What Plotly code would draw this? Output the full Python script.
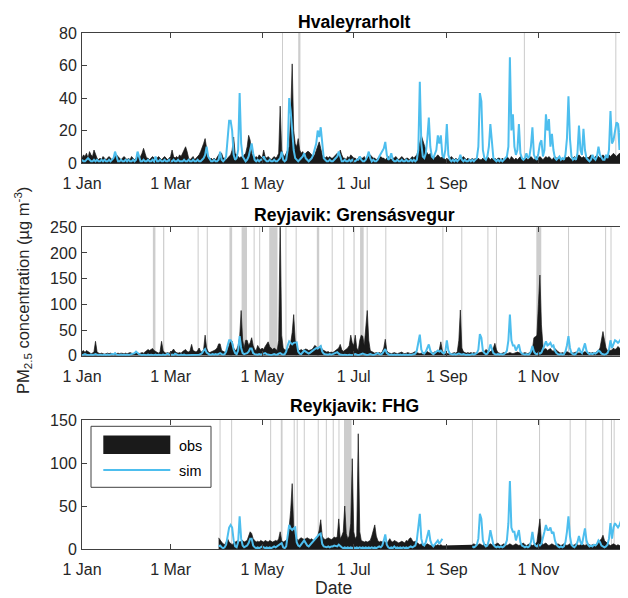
import plotly.graph_objects as go
import pandas as pd

# ---------------- data (daily values, day 0 = 1 Jan) ----------------
year_start = "2017-01-01"
tick_dates = ["2017-01-01", "2017-03-01", "2017-05-01", "2017-07-01", "2017-09-01", "2017-11-01"]
tick_labels = ["1 Jan", "1 Mar", "1 May", "1 Jul", "1 Sep", "1 Nov"]
titles = ["Hvaleyrarholt", "Reyjavik: Grensásvegur", "Reykjavik: FHG"]
y_max = [80, 250, 150]
y_ticks = [[0, 20, 40, 60, 80], [0, 50, 100, 150, 200, 250], [0, 50, 100, 150]]

hv_obs = [3,5,4,6,3,7,5,4,8,5,3,2,3,2,4,3,2,3,4,3,
          2,3,4,5,4,3,2,3,4,3,2,3,2,4,3,2,3,4,3,4,
          6,9,6,3,3,2,3,4,3,2,3,4,3,2,3,4,3,2,3,4,
          8,4,3,4,3,5,4,6,8,10,7,3,2,3,4,2,3,4,5,7,
          9,12,15,8,3,2,3,2,3,2,4,5,6,6,3,3,2,3,4,5,
          8,16,6,5,4,3,4,3,5,6,10,17,14,6,4,3,4,3,5,4,
          3,8,4,3,4,3,2,3,4,3,4,6,35,8,5,4,6,8,10,30,
          61,20,12,10,15,8,6,7,5,6,7,7,6,5,4,5,8,10,13,9,
          5,4,3,4,3,4,3,3,4,5,6,4,8,5,3,3,2,4,3,5,
          4,3,3,2,3,4,3,3,4,2,3,4,5,4,3,3,2,3,3,4,
          3,3,2,3,4,3,2,3,3,4,3,2,3,4,3,2,3,3,2,3,
          4,3,4,5,8,12,17,14,10,8,6,5,6,4,4,3,4,5,4,3,
          4,3,2,3,2,3,4,3,2,3,2,3,2,3,4,3,2,3,2,2,
          3,2,3,2,3,2,2,3,2,3,4,3,2,3,2,3,2,3,3,2,
          3,2,3,4,3,2,4,3,2,3,2,3,4,3,2,3,3,2,3,4,
          3,2,3,4,3,4,3,2,3,4,3,4,3,2,3,4,3,3,4,3,
          2,3,4,3,4,3,2,3,4,3,4,5,4,3,4,3,4,3,4,5,
          4,3,4,5,4,3,4,5,4,3,4,5,4,5,6,5,4,5,6,5,
          4,5,4,3,4]

hv_sim = [2,1,1,2,3,2,1,1,2,1,2,1,1,2,1,2,1,1,2,1,
          2,3,7,3,1,1,2,1,1,2,1,2,1,1,2,1,2,7,3,1,
          1,2,1,1,2,1,1,2,1,4,1,1,2,1,1,2,1,1,2,1,
          1,2,1,1,2,1,1,1,2,1,1,2,1,1,2,1,1,2,1,1,
          2,3,5,10,4,2,1,1,2,1,1,2,7,2,1,2,4,15,26,26,
          20,5,2,3,8,43,12,4,2,1,2,4,8,12,6,2,1,2,1,2,
          2,4,2,1,1,2,1,1,2,1,1,2,3,7,2,1,2,8,40,32,
          20,8,3,2,1,2,3,4,6,3,2,1,2,3,5,8,12,20,16,22,
          10,3,2,1,1,2,1,1,2,3,4,7,3,1,1,2,1,1,2,1,
          2,1,1,2,2,4,2,1,1,2,4,7,3,1,2,1,1,2,4,6,
          8,9,13,5,2,3,6,2,1,1,2,1,1,2,1,1,2,1,1,2,
          1,2,1,2,8,50,12,4,3,6,15,28,10,4,3,5,8,17,12,17,
          5,3,8,24,5,2,1,2,1,2,1,2,5,2,1,2,1,1,2,1,
          2,1,2,3,10,43,38,8,3,2,4,10,24,12,3,2,1,2,1,2,
          1,2,3,4,10,65,20,30,10,5,8,24,6,3,2,3,6,3,4,10,
          22,5,3,2,6,12,14,4,8,30,20,27,10,18,8,3,2,3,4,2,
          3,2,5,15,41,15,4,2,3,2,6,23,8,5,21,8,3,2,1,2,
          5,3,2,4,10,5,3,2,2,5,3,8,32,12,14,20,25,24,8,25,
          13,11,6,8,12]

gr_obs = [8,10,6,10,8,5,4,5,8,28,8,5,4,5,4,3,4,5,4,5,
          4,3,5,4,5,4,5,4,4,5,4,5,6,5,4,5,8,5,4,5,
          6,5,8,10,12,10,12,14,10,8,6,5,8,28,10,6,5,6,5,7,
          9,13,8,6,5,6,5,8,10,12,8,7,10,22,10,8,7,10,15,8,
          7,12,40,15,8,6,7,8,10,12,15,23,23,10,8,7,8,12,20,30,
          28,15,10,12,20,35,88,30,15,30,30,20,25,35,20,12,10,20,15,12,
          15,12,18,22,27,18,15,12,15,12,10,30,262,40,15,12,10,12,15,25,
          45,80,30,20,12,10,12,10,11,13,12,10,11,12,15,20,18,12,15,20,
          12,10,8,7,8,6,7,6,8,10,12,15,22,12,8,10,12,15,20,40,
          25,20,40,15,10,30,40,38,20,50,88,30,10,8,6,5,6,5,6,5,
          8,15,32,10,6,5,4,5,6,5,4,5,6,7,5,4,5,6,5,4,
          5,6,8,6,5,4,5,6,5,7,8,6,5,6,5,8,6,8,12,27,
          10,5,4,5,4,5,4,5,6,5,8,30,89,15,8,6,5,6,5,6,
          5,6,5,6,5,6,7,6,8,12,10,6,8,10,15,24,12,6,5,4,
          5,6,5,4,5,6,5,4,5,6,7,6,5,4,5,6,5,4,6,8,
          12,35,37,40,100,157,60,20,12,14,10,12,14,10,8,14,10,8,6,5,
          6,5,6,8,6,5,6,5,6,7,6,5,6,5,6,8,6,5,6,5,
          6,5,6,8,10,15,30,47,30,15,10,12,10,11,15,12,14,18,15,12,
          20,12,10,12,10]

gr_sim = [1,2,3,2,1,1,2,1,2,3,2,1,2,1,1,2,1,2,1,2,
          3,2,5,2,1,1,2,1,2,1,2,1,2,3,4,5,8,5,3,2,
          1,2,1,1,2,1,2,1,1,2,1,2,1,1,2,1,2,4,2,1,
          2,1,4,2,1,1,2,1,2,1,1,2,1,2,1,1,2,1,2,3,
          5,10,13,6,3,2,2,3,2,3,2,4,5,3,2,3,8,20,30,30,
          25,12,5,3,10,38,15,5,3,4,5,8,14,14,5,3,2,2,3,2,
          3,4,5,3,2,2,1,2,3,2,2,4,5,3,2,3,8,20,28,25,
          22,25,26,26,8,4,3,6,10,8,5,4,6,8,10,12,15,14,16,19,
          8,4,3,2,2,3,2,3,4,5,7,4,2,2,1,2,1,1,2,1,
          1,2,3,2,1,2,3,4,3,2,1,2,3,2,1,2,3,5,3,2,
          4,8,13,5,2,1,2,1,2,1,2,1,2,1,2,1,2,1,2,1,
          2,3,4,10,30,41,12,5,4,8,15,22,10,5,3,5,8,10,8,10,
          6,4,8,30,10,4,3,2,3,2,3,4,3,2,3,2,1,2,1,2,
          3,2,3,5,12,42,35,10,5,3,4,10,22,15,5,3,2,3,2,3,
          2,3,5,10,30,80,30,20,20,10,15,22,8,4,3,2,3,2,3,8,
          19,8,4,3,5,4,6,12,20,28,20,22,25,18,20,10,5,3,2,3,
          2,3,8,20,38,15,5,3,2,4,8,15,8,5,15,24,10,5,3,4,
          3,5,4,6,10,8,4,3,2,3,5,12,30,15,25,30,28,25,28,33,
          15,8,10,20,15]

fhg_obs = ([None] * 91 +
           [13,10,8,6,5,8,12,8,6,5,7,8,9,10,8,9,10,8,9,10,
            15,20,18,12,10,8,9,8,10,9,8,10,9,8,10,9,8,9,10,9,
            12,20,10,8,9,10,12,25,45,76,25,15,12,10,12,13,12,11,12,13,
            12,11,12,10,11,12,15,22,34,15,12,11,12,13,12,11,12,14,13,14,35,
            12,15,20,50,18,12,15,30,105,20,12,15,134,20,10,9,8,9,8,9,
            10,15,22,28,15,10,8,9,8,9,8,7,9,12,9,8,10,9,8,7,
            8,9,8,7,10,9,12,13,10,8,9,8,6,5,6,5,6,5,6,5,
            4,5,4,5,4,5,4,5,4] +
           [None] * 19 +
           [5,6,5,4,5,6,5,4,6,5,4,5,6,5,4,5,6,7,5,4,
            5,6,5,4,5,6,5,4,5,6,5,4,5,6,7,5,4,5,6,5,
            4,5,6,8,20,35,8,5,6,7,5,4,5,6,5,4,5,6,5,4,
            5,6,5,4,5,6,5,4,5,6,5,4,5,6,5,4,5,6,5,4,
            5,4,5,6,7,10,12,16,10,8,6,5,4,5,6,5,4,5,4,5,
            6,5,4,5,4])

fhg_sim = ([None] * 91 +
           [3,4,2,1,2,5,15,25,28,25,10,3,2,8,38,12,4,2,3,4,
            7,12,12,4,2,1,2,1,2,3,2,1,2,1,2,1,2,3,2,3,
            4,6,7,2,1,3,15,28,24,22,24,25,8,4,3,5,8,10,7,4,
            3,5,8,10,12,14,15,17,18,6,3,2,2,3,2,3,3,4,3,3,5,
            3,2,1,2,1,2,1,2,1,2,1,2,1,2,1,2,1,2,1,2,
            1,2,1,2,1,2,3,2,4,10,17,5,2,1,2,1,3,1,2,1,
            2,1,2,1,2,1,2,3,2,3,4,10,
            30,41,12,5,4,8,15,22,10,5,3,5,8,10,6,10,12] +
           [None] * 19 +
           [3,2,3,5,12,41,35,10,5,3,4,10,22,15,5,3,2,3,2,3,
            2,3,5,10,30,79,25,20,20,10,15,22,8,4,3,2,3,2,3,8,
            20,8,4,3,5,4,6,12,20,28,22,22,25,18,20,10,5,3,2,3,
            2,3,8,20,38,15,5,3,2,4,8,15,8,5,15,24,10,5,3,4,
            3,5,4,6,10,8,4,3,2,3,5,12,30,12,25,30,28,25,28,33,
            15,8,10,20,8])

# grey bands (start day, end day)
hv_gaps = [(133.2, 133.9), (144.0, 145.5), (294.3, 295.0), (355.2, 355.9)]
gr_gaps = [(47.2, 48.9), (54.0, 54.8), (77.0, 77.7), (83.1, 83.8), (98.2, 100.0),
           (106.3, 109.9), (114.3, 115.0), (118.0, 118.7), (124.7, 130.2), (135.5, 136.2),
           (142.3, 143.0), (156.4, 158.0), (166.3, 167.0), (174.0, 174.7), (180.8, 181.6),
           (185.2, 187.6), (189.6, 190.3), (202.0, 202.7), (240.0, 240.7), (252.6, 253.3),
           (270.0, 270.7), (275.7, 276.4), (302.6, 305.9), (323.7, 324.4), (348.4, 349.1),
           (352.0, 352.7), (358.8, 360.3)]
fhg_gaps = [(91.6, 92.3), (99.3, 100.0), (125.3, 126.0), (132.4, 133.6), (141.0, 141.7),
            (143.0, 143.7), (147.7, 148.4), (157.0, 157.7), (162.4, 163.1), (167.0, 167.7),
            (170.8, 171.5), (174.5, 179.5), (259.7, 260.4), (275.8, 276.5), (304.4, 305.1),
            (324.8, 325.5), (335.2, 335.9), (346.5, 347.2), (352.3, 353.0), (354.1, 354.8)]

# ---------------- figure ----------------
PAGE_OFF = 8                 # default body margin of the html page
W, H = 628 - PAGE_OFF, 598 - PAGE_OFF
start = pd.Timestamp(year_start)
N = 365
dates = pd.date_range(start, periods=N, freq="D")


def fit(a):
    a = list(a)[:N]
    return a + [None] * (N - len(a))


def d2t(d):
    return (start + pd.Timedelta(days=d)).strftime("%Y-%m-%d %H:%M:%S")


def px(x):
    return (x - PAGE_OFF) / W


def py(y):
    return 1 - (y - PAGE_OFF) / H


FONT = "Liberation Sans, Arial, Helvetica, sans-serif"
AX = "#404040"
TXT = "#262626"
OBS = "#1a1a1a"
SIM = "#4DBEEE"
GAP = "#cdcdcd"

plot_left, plot_right = 82, 627
panel_px = [(33, 163), (227.3, 355.7), (420, 549)]
title_y = [22, 215, 406]

series = [(hv_obs, hv_sim, hv_gaps), (gr_obs, gr_sim, gr_gaps), (fhg_obs, fhg_sim, fhg_gaps)]

fig = go.Figure()
shapes = []
annotations = []
layout = {}

for i, (obs, sim, gaps) in enumerate(series):
    xa = "x" if i == 0 else f"x{i+1}"
    ya = "y" if i == 0 else f"y{i+1}"
    fig.add_trace(go.Scatter(x=dates, y=fit(obs), mode="lines", fill="tozeroy",
                             line=dict(color=OBS, width=0.7), fillcolor=OBS,
                             connectgaps=False, showlegend=False, hoverinfo="skip",
                             xaxis=xa, yaxis=ya))
    fig.add_trace(go.Scatter(x=dates, y=fit(sim), mode="lines",
                             line=dict(color=SIM, width=2), connectgaps=False,
                             showlegend=False, hoverinfo="skip", xaxis=xa, yaxis=ya))
    for a, b in gaps:
        shapes.append(dict(type="rect", xref=xa, yref=f"{ya} domain", x0=d2t(a), x1=d2t(b),
                           y0=0, y1=1, fillcolor=GAP, line=dict(width=0), layer="below"))
    top, bot = panel_px[i]
    kx = "xaxis" if i == 0 else f"xaxis{i+1}"
    ky = "yaxis" if i == 0 else f"yaxis{i+1}"
    layout[kx] = dict(domain=[px(plot_left), min(1.0, px(plot_right))], anchor=ya, type="date",
                      range=[d2t(0), d2t(363)], tickvals=tick_dates, ticktext=tick_labels,
                      ticks="inside", ticklen=5, tickcolor=AX, tickwidth=1,
                      showline=True, linecolor=AX, linewidth=1, mirror="ticks",
                      showgrid=False, zeroline=False, automargin=False,
                      ticklabelstandoff=6,
                      tickfont=dict(family=FONT, size=16, color=TXT))
    layout[ky] = dict(domain=[py(bot), py(top)], anchor=xa, range=[0, y_max[i]],
                      tickvals=y_ticks[i], ticks="inside", ticklen=5, tickcolor=AX,
                      tickwidth=1, showline=True, linecolor=AX, linewidth=1,
                      mirror="ticks", showgrid=False, zeroline=False, automargin=False,
                      ticklabelstandoff=1,
                      tickfont=dict(family=FONT, size=16, color=TXT))
    annotations.append(dict(xref="paper", yref="paper", x=px((plot_left + plot_right) / 2),
                            y=py(title_y[i]), text=f"<b>{titles[i]}</b>", showarrow=False,
                            xanchor="center", yanchor="middle",
                            font=dict(family=FONT, size=17.6, color="#000000")))

# axis labels
annotations.append(dict(xref="paper", yref="paper", x=px(23), y=py(291),
                        text="PM<sub>2.5</sub> concentration (µg m<sup>-3</sup>)",
                        textangle=-90, showarrow=False, xanchor="center", yanchor="middle",
                        font=dict(family=FONT, size=16.5, color=TXT)))
annotations.append(dict(xref="paper", yref="paper", x=px(333), y=py(587.5), text="Date",
                        showarrow=False, xanchor="center", yanchor="middle",
                        font=dict(family=FONT, size=17.6, color=TXT)))

# legend (drawn manually, MATLAB style)
shapes.append(dict(type="rect", xref="paper", yref="paper", x0=px(91), x1=px(211),
                   y0=py(487.3), y1=py(426.3), fillcolor="white",
                   line=dict(color=AX, width=1)))
shapes.append(dict(type="rect", xref="paper", yref="paper", x0=px(103.3), x1=px(170.3),
                   y0=py(454), y1=py(435.5), fillcolor=OBS, line=dict(width=0)))
shapes.append(dict(type="line", xref="paper", yref="paper", x0=px(103.3), x1=px(170.3),
                   y0=py(470), y1=py(470), line=dict(color=SIM, width=2)))
annotations.append(dict(xref="paper", yref="paper", x=px(176.5), y=py(446), text="obs",
                        showarrow=False, xanchor="left", yanchor="middle",
                        font=dict(family=FONT, size=14.4, color="#000000")))
annotations.append(dict(xref="paper", yref="paper", x=px(176.5), y=py(471), text="sim",
                        showarrow=False, xanchor="left", yanchor="middle",
                        font=dict(family=FONT, size=14.4, color="#000000")))

fig.update_layout(width=W, height=H, margin=dict(l=0, r=0, t=0, b=0, autoexpand=False),
                  paper_bgcolor="white", plot_bgcolor="white", showlegend=False,
                  shapes=shapes, annotations=annotations, **layout)

fig.write_html("out.html", config={"displayModeBar": False})
